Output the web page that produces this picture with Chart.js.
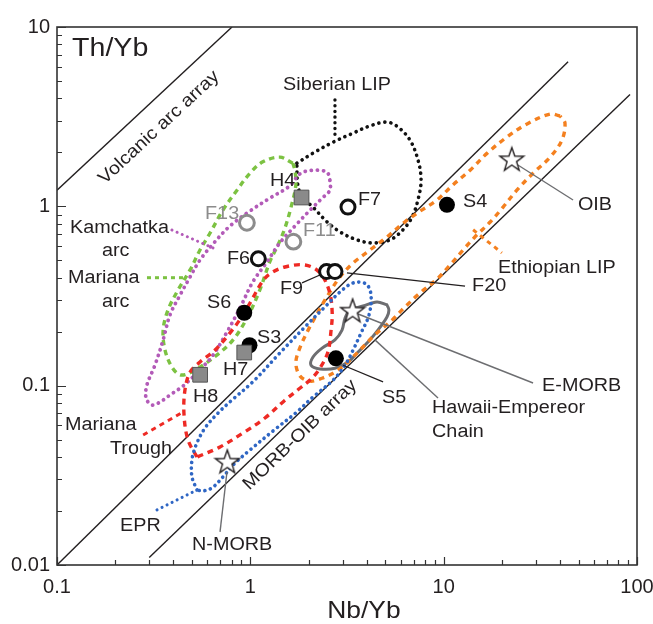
<!DOCTYPE html>
<html>
<head>
<meta charset="utf-8">
<script src="https://cdn.jsdelivr.net/npm/chart.js@4.4.0/dist/chart.umd.min.js"></script>
<style>
  html, body { margin: 0; padding: 0; background: #fff; }
</style>
</head>
<body>
<canvas id="myChart" width="653" height="624"></canvas>
<script>
// axis decades that carry a label
var xTickLabels = [0.1, 1, 10, 100];
var yTickLabels = [0.01, 0.1, 1, 10];

// reference lines [Nb/Yb, Th/Yb]
var volcanicArcLine = [[0.1, 1.23], [0.804, 10]];
var morbOibUpper = [[0.1, 0.01], [44, 6.4]];
var morbOibLower = [[0.3, 0.011], [92, 4.2]];

// samples
var sNames = ['S3', 'S4', 'S5', 'S6'];
var sNbYb = [0.99, 10.4, 2.77, 0.93];
var sThYb = [0.168, 1.02, 0.142, 0.255];

var fNames = ['F6', 'F7', 'F9', 'F20'];
var fNbYb = [1.1, 3.2, 2.48, 2.74];
var fThYb = [0.51, 0.99, 0.433, 0.433];

var fGreyNames = ['F11', 'F13'];
var fGreyNbYb = [1.67, 0.96];
var fGreyThYb = [0.635, 0.81];

var hNames = ['H4', 'H7', 'H8'];
var hNbYb = [1.84, 0.93, 0.55];
var hThYb = [1.12, 0.153, 0.115];

var refNames = ['OIB', 'E-MORB', 'N-MORB'];
var refNbYb = [22.5, 3.38, 0.76];
var refThYb = [1.83, 0.262, 0.0377];

// fields (outlines)
var siberianLIP = [[1.74,1.74],[2.11,1.98],[2.68,2.28],[3.40,2.56],[4.16,2.81],[5.09,2.95],[5.80,2.77],[6.70,2.34],[7.37,1.81],[7.64,1.40],[7.37,1.09],[6.86,0.87],[6.16,0.74],[5.28,0.65],[4.31,0.625],[3.56,0.65],[2.91,0.72],[2.49,0.82],[2.11,0.99],[1.85,1.13],[1.76,1.32],[1.74,1.74]];
var ethiopianLIP = [[40.0,3.19],[35.5,3.27],[27.0,2.88],[21.3,2.44],[16.8,1.98],[13.7,1.59],[11.2,1.32],[9.24,1.085],[7.55,0.94],[6.31,0.82],[5.09,0.675],[4.16,0.571],[3.40,0.483],[2.91,0.404],[2.52,0.320],[2.24,0.2575],[1.99,0.204],[1.81,0.164],[1.72,0.134],[1.81,0.113],[2.04,0.106],[2.35,0.110],[2.74,0.119],[3.16,0.134],[3.69,0.158],[4.41,0.192],[5.41,0.232],[6.31,0.275],[7.55,0.329],[9.24,0.393],[10.8,0.471],[12.6,0.571],[14.5,0.675],[17.4,0.818],[20.3,0.99],[23.9,1.23],[29.0,1.53],[35.5,1.88],[40.9,2.34],[42.4,2.92],[40.0,3.19]];
var kamchatkaArc = [[2.58,1.40],[2.49,1.55],[2.11,1.59],[1.81,1.52],[1.60,1.30],[1.26,1.11],[0.996,0.942],[0.785,0.777],[0.641,0.617],[0.549,0.502],[0.488,0.404],[0.433,0.320],[0.384,0.248],[0.354,0.180],[0.321,0.130],[0.292,0.101],[0.289,0.085],[0.310,0.078],[0.341,0.081],[0.384,0.0887],[0.449,0.0996],[0.530,0.118],[0.641,0.148],[0.757,0.199],[0.884,0.271],[1.03,0.379],[1.22,0.490],[1.42,0.625],[1.74,0.797],[2.04,0.954],[2.35,1.11],[2.58,1.23],[2.58,1.40]];
var marianaArc = [[1.66,1.74],[1.42,1.88],[1.16,1.77],[0.996,1.53],[0.853,1.23],[0.722,0.954],[0.619,0.710],[0.549,0.571],[0.488,0.442],[0.423,0.342],[0.375,0.264],[0.354,0.204],[0.362,0.158],[0.393,0.127],[0.433,0.115],[0.488,0.118],[0.569,0.130],[0.681,0.150],[0.814,0.180],[0.961,0.238],[1.12,0.342],[1.26,0.490],[1.39,0.609],[1.51,0.757],[1.62,0.979],[1.72,1.315],[1.70,1.59],[1.66,1.74]];
var marianaTrough = [[0.530,0.040],[0.476,0.0498],[0.454,0.0686],[0.459,0.0946],[0.488,0.119],[0.549,0.1355],[0.657,0.158],[0.785,0.197],[0.917,0.248],[1.03,0.308],[1.15,0.379],[1.26,0.420],[1.51,0.459],[1.92,0.471],[2.27,0.430],[2.55,0.342],[2.65,0.2575],[2.61,0.199],[2.52,0.154],[2.29,0.125],[2.08,0.110],[1.81,0.097],[1.51,0.083],[1.19,0.066],[0.917,0.0545],[0.697,0.0455],[0.530,0.040]];
var eprField = [[0.530,0.0262],[0.499,0.031],[0.499,0.0385],[0.524,0.0467],[0.583,0.0581],[0.681,0.0704],[0.804,0.0832],[1.03,0.105],[1.42,0.152],[1.96,0.218],[2.49,0.282],[2.91,0.333],[3.40,0.374],[3.97,0.369],[4.21,0.320],[4.11,0.248],[3.74,0.197],[3.40,0.158],[3.09,0.130],[2.68,0.1075],[2.11,0.0865],[1.74,0.0713],[1.31,0.0559],[0.996,0.0438],[0.814,0.0361],[0.722,0.031],[0.633,0.0269],[0.569,0.0259],[0.530,0.0262]];
var hawaiiChain = [[5.09,0.282],[4.52,0.293],[3.83,0.278],[3.28,0.264],[3.09,0.238],[2.98,0.204],[2.74,0.180],[2.35,0.162],[2.11,0.1445],[2.06,0.130],[2.29,0.124],[2.74,0.125],[3.20,0.1355],[3.61,0.154],[4.06,0.175],[4.57,0.204],[5.09,0.2415],[5.21,0.264],[5.09,0.282]];

// leader lines
var leaderF9 = [[1.85,0.374],[2.29,0.414]];
var leaderF20 = [[3.16,0.425],[12.9,0.359]];
var leaderS5 = [[3.02,0.130],[4.86,0.105]];
var leaderOIB = [[24.2,1.70],[46.7,1.085]];
var leaderEMORB = [[3.61,0.251],[29.0,0.1035]];
var leaderHawaii = [[4.41,0.180],[9.35,0.0853]];
var leaderNMORB = [[0.757,0.033],[0.697,0.0153]];
var leaderKamchatka = [[0.393,0.738],[0.641,0.586]];
var leaderMarianaArc = [[0.292,0.40],[0.46,0.40]];
var leaderTrough = [[0.279,0.0531],[0.449,0.0713]];
var leaderEPR = [[0.329,0.0203],[0.530,0.0262]];
var leaderSiberian = [[2.74,3.92],[2.74,2.40]];
var leaderEthiopian = [[14.2,0.74],[20.0,0.55]];

// text annotations [text, Nb/Yb, Th/Yb] (left edge, vertical middle)
var blackLabels = [
  ['Siberian LIP',1.476,4.75],['H4',1.264,1.385],['F7',3.605,1.085],['S4',12.59,1.057],
  ['OIB',49.5,1.017],['Kamchatka',0.1167,0.757],['arc',0.1709,0.5636],['F6',0.757,0.5085],
  ['Ethiopian LIP',19.1,0.453],['Mariana',0.114,0.3985],['F20',14.02,0.3594],['F9',1.424,0.346],
  ['arc',0.1709,0.2928],['S6',0.5967,0.2891],['S3',1.083,0.1844],['H7',0.722,0.1223],
  ['E-MORB',32.3,0.0996],['H8',0.5052,0.0865],['S5',4.80,0.0853],['Hawaii-Empereor',8.71,0.0751],
  ['Mariana',0.110,0.0603],['Chain',8.71,0.0551],['Trough',0.1879,0.0443],['EPR',0.2118,0.0165],
  ['N-MORB',0.4994,0.0129]
];
var greyLabels = [['F13',0.583,0.906],['F11',1.873,0.729]];

var ink = '#231f20';
var fontFam = '"Liberation Sans", Arial, Helvetica, sans-serif';
Chart.defaults.font.family = fontFam;

function pts(arr) { return arr.map(function (p) { return { x: p[0], y: p[1] }; }); }
function zip(xs, ys) { return xs.map(function (v, i) { return { x: v, y: ys[i] }; }); }

function makeStar() {
  var c = document.createElement('canvas');
  c.width = 28; c.height = 28;
  var g = c.getContext('2d');
  g.beginPath();
  for (var i = 0; i < 10; i++) {
    var r = i % 2 === 0 ? 12.5 : 5;
    var a = -Math.PI / 2 + i * Math.PI / 5;
    var px = 14 + r * Math.cos(a), py = 14.8 + r * Math.sin(a);
    if (i === 0) g.moveTo(px, py); else g.lineTo(px, py);
  }
  g.closePath();
  g.fillStyle = '#fff';
  g.fill();
  g.lineWidth = 1.4;
  g.strokeStyle = ink;
  g.stroke();
  return c;
}

function outline(arr, color, width, dash, cap) {
  return {
    data: pts(arr), showLine: true, borderColor: color, borderWidth: width,
    borderDash: dash, borderCapStyle: cap, borderJoinStyle: 'round',
    pointRadius: 0, tension: 0.35, fill: false, order: 3
  };
}
function straight(arr, color, width, dash, cap, order) {
  return {
    data: pts(arr), showLine: true, borderColor: color, borderWidth: width,
    borderDash: dash || [], borderCapStyle: cap || 'butt',
    pointRadius: 0, tension: 0, fill: false, order: order
  };
}

var grey = '#6d6e71';
var dsets = [
  // reference lines
  straight(volcanicArcLine, ink, 1.4, null, null, 4),
  straight(morbOibUpper, ink, 1.4, null, null, 4),
  straight(morbOibLower, ink, 1.4, null, null, 4),
  // fields
  outline(eprField, '#2f66c4', 3.6, [0.1, 5.6], 'round'),
  outline(marianaTrough, '#ee2a24', 3.4, [6, 5], 'butt'),
  outline(ethiopianLIP, '#f4801f', 3.4, [5.5, 5], 'butt'),
  outline(hawaiiChain, '#6d6e71', 3, [], 'round'),
  outline(kamchatkaArc, '#b35bb8', 3.8, [0.1, 6], 'round'),
  outline(marianaArc, '#7cc242', 3.4, [5.5, 4.5], 'butt'),
  outline(siberianLIP, '#111', 3.6, [0.1, 6], 'round'),
  // leaders
  straight(leaderF9, ink, 1.3, null, null, 1),
  straight(leaderF20, ink, 1.3, null, null, 1),
  straight(leaderS5, ink, 1.3, null, null, 1),
  straight(leaderOIB, grey, 1.4, null, null, 1),
  straight(leaderEMORB, grey, 1.4, null, null, 1),
  straight(leaderHawaii, grey, 1.4, null, null, 1),
  straight(leaderNMORB, grey, 1.4, null, null, 1),
  straight(leaderKamchatka, '#b35bb8', 3, [0.1, 5.5], 'round', 1),
  straight(leaderMarianaArc, '#7cc242', 3, [4, 4], 'butt', 1),
  straight(leaderTrough, '#ee2a24', 3, [5, 4.5], 'butt', 1),
  straight(leaderEPR, '#2f66c4', 3, [0.1, 5.5], 'round', 1),
  straight(leaderSiberian, '#111', 3.4, [0.1, 5.6], 'round', 1),
  straight(leaderEthiopian, '#f4801f', 3, [4.5, 4.5], 'butt', 1),
  // samples
  { data: zip(hNbYb, hThYb), pointStyle: 'rect', pointRadius: 10.4, backgroundColor: '#8a8a8a',
    borderColor: '#555', borderWidth: 1, showLine: false, order: 0 },
  { data: zip(sNbYb, sThYb), pointStyle: 'circle', pointRadius: 8, backgroundColor: '#000',
    borderColor: '#000', borderWidth: 0, showLine: false, order: 0 },
  { data: zip(fNbYb, fThYb), pointStyle: 'circle', pointRadius: 7, backgroundColor: '#fff',
    borderColor: '#111', borderWidth: 3, showLine: false, order: 0 },
  { data: zip(fGreyNbYb, fGreyThYb), pointStyle: 'circle', pointRadius: 7.4, backgroundColor: '#fff',
    borderColor: '#8c8c8c', borderWidth: 3, showLine: false, order: 0 },
  { data: zip(refNbYb, refThYb), pointStyle: makeStar(), pointRadius: 13, showLine: false, order: 0 }
];

function drawText(ctx, txt, px, py, align, color, size, rot) {
  ctx.save();
  ctx.translate(px, py);
  if (rot) ctx.rotate(rot);
  ctx.scale(1.1, 1);
  ctx.font = size + 'px ' + fontFam;
  ctx.fillStyle = color;
  ctx.textAlign = align;
  ctx.textBaseline = 'middle';
  ctx.fillText(txt, 0, 0);
  ctx.restore();
}

var decor = {
  id: 'decor',
  afterDraw: function (chart) {
    var ctx = chart.ctx, a = chart.chartArea;
    var xs = chart.scales.x, ys = chart.scales.y;
    ctx.save();
    // frame
    ctx.strokeStyle = '#333';
    ctx.lineWidth = 1.6;
    ctx.strokeRect(a.left, a.top, a.right - a.left, a.bottom - a.top);
    // inward ticks
    ctx.lineWidth = 1.2;
    ctx.beginPath();
    for (var k = -2; k <= 1; k++) {
      for (var m = 1; m <= 9; m++) {
        var v = m * Math.pow(10, k);
        if (v < 0.01 - 1e-12 || v > 10 + 1e-9) continue;
        var py = Math.round(ys.getPixelForValue(v)) + 0.5;
        var len = m === 1 ? 9 : 5;
        ctx.moveTo(a.left, py); ctx.lineTo(a.left + len, py);
      }
    }
    for (var k2 = -1; k2 <= 2; k2++) {
      for (var m2 = 1; m2 <= 9; m2++) {
        var v2 = m2 * Math.pow(10, k2);
        if (v2 < 0.1 - 1e-12 || v2 > 100 + 1e-9) continue;
        var px = Math.round(xs.getPixelForValue(v2)) + 0.5;
        var len2 = m2 === 1 ? 8 : 5;
        ctx.moveTo(px, a.bottom); ctx.lineTo(px, a.bottom - len2);
      }
    }
    ctx.stroke();
    ctx.restore();

    // titles
    drawText(ctx, 'Th/Yb', xs.getPixelForValue(0.1196), ys.getPixelForValue(7.54), 'left', ink, 26);
    drawText(ctx, 'Nb/Yb', xs.getPixelForValue(3.87), chart.height - 13, 'center', ink, 24);

    // rotated array labels
    var ang1 = Math.atan2(ys.getPixelForValue(volcanicArcLine[1][1]) - ys.getPixelForValue(volcanicArcLine[0][1]),
                          xs.getPixelForValue(volcanicArcLine[1][0]) - xs.getPixelForValue(volcanicArcLine[0][0]));
    drawText(ctx, 'Volcanic arc array', xs.getPixelForValue(0.337), ys.getPixelForValue(2.752), 'center', ink, 18, ang1);
    var ang2 = Math.atan2(ys.getPixelForValue(morbOibLower[1][1]) - ys.getPixelForValue(morbOibLower[0][1]),
                          xs.getPixelForValue(morbOibLower[1][0]) - xs.getPixelForValue(morbOibLower[0][0]));
    drawText(ctx, 'MORB-OIB array', xs.getPixelForValue(1.807), ys.getPixelForValue(0.0531), 'center', ink, 18, ang2);

    blackLabels.forEach(function (l) {
      drawText(ctx, l[0], xs.getPixelForValue(l[1]), ys.getPixelForValue(l[2]), 'left', ink, 18);
    });
    greyLabels.forEach(function (l) {
      drawText(ctx, l[0], xs.getPixelForValue(l[1]), ys.getPixelForValue(l[2]), 'left', '#8c8c8c', 18);
    });
  }
};

function decadeLabel(v) {
  var l = Math.log10(v);
  return Math.abs(l - Math.round(l)) < 1e-9 ? String(+v.toPrecision(3)) : '';
}

var ctx = document.getElementById('myChart').getContext('2d');
var chart = new Chart(ctx, {
  type: 'scatter',
  data: { datasets: dsets },
  plugins: [decor],
  options: {
    responsive: false,
    animation: false,
    devicePixelRatio: 1,
    layout: { padding: { left: 0, top: 27, right: 16, bottom: 0 } },
    plugins: { legend: { display: false }, tooltip: { enabled: false } },
    scales: {
      x: {
        type: 'logarithmic', min: 0.1, max: 100, position: 'bottom',
        grid: { display: false, drawTicks: false },
        border: { display: false },
        ticks: {
          autoSkip: false, maxRotation: 0, padding: 10, color: ink,
          font: { size: 20 },
          callback: function (v) { return decadeLabel(v); }
        },
        afterFit: function (s) { s.height = 59; s.paddingLeft = 0; s.paddingRight = 0; }
      },
      y: {
        type: 'logarithmic', min: 0.01, max: 10, position: 'left',
        grid: { display: false, drawTicks: false },
        border: { display: false },
        ticks: {
          autoSkip: false, padding: 7, color: ink,
          font: { size: 20 },
          callback: function (v) { return decadeLabel(v); }
        },
        afterFit: function (s) { s.width = 57; s.paddingTop = 0; s.paddingBottom = 0; }
      }
    }
  }
});
</script>
</body>
</html>
